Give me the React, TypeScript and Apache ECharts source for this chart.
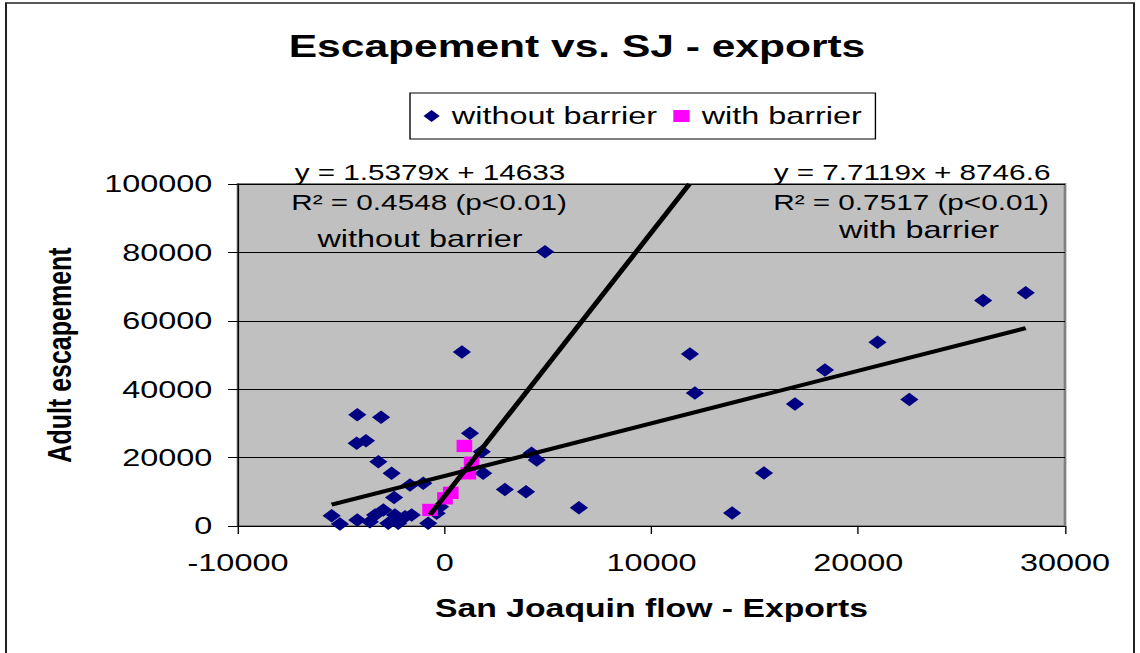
import React, { useEffect, useRef } from "react";
import * as echarts from "echarts";

// ---- data ----
const title = "Escapement vs. SJ - exports";
const xAxisName = "San Joaquin flow - Exports";
const yAxisName = "Adult escapement";
const seriesNames = ["without barrier", "with barrier"];

const xMin = -10000;
const xMax = 30000;
const xInterval = 10000;
const yMin = 0;
const yMax = 100000;
const yInterval = 20000;

const withoutBarrier: [number, number][] = [
  [-5470, 3000], [-5070, 600], [-4260, 24200], [-4230, 32500], [-4230, 1750],
  [-3810, 24900], [-3620, 1260], [-3370, 3200], [-3210, 18800], [-3080, 31800],
  [-2970, 4700], [-2730, 800], [-2570, 15400], [-2450, 8300], [-2410, 3200],
  [-2250, 800], [-1920, 2700], [-1680, 12000], [-1600, 3200], [-1040, 12500],
  [-800, 800], [-390, 3700], [-230, 5600], [830, 50900], [1220, 27100],
  [1790, 21700], [1860, 15400], [2910, 10700], [3930, 10000], [4200, 21300],
  [4450, 19300], [4850, 80200], [6490, 5300], [11860, 50300], [12100, 38900],
  [13900, 3800], [15440, 15500], [16940, 35700], [18390, 45600], [20930, 53700],
  [22470, 37000], [26040, 65900], [28100, 68200],
];

const withBarrier: [number, number][] = [
  [-710, 4700], [10, 8100], [290, 9700], [950, 23400], [1140, 15400], [1300, 18500],
];

// trend line coefficients (slope, intercept) as printed on the chart
const trendWithout = [1.5379, 14633];
const trendWith = [7.7119, 8746.6];

const eqWithout = ["y = 1.5379x + 14633", "R\u00b2 = 0.4548 (p<0.01)", "without barrier"];
const eqWith = ["y = 7.7119x + 8746.6", "R\u00b2 = 0.7517 (p<0.01)", "with barrier"];

// ---- layout (the reference is stretched horizontally) ----
const SX = 1.35;
const W = 1140 / SX;
const H = 653;
const FONT = "'Liberation Sans', Arial, sans-serif";
const gx = (px: number) => px / SX; // reference pixel -> inner x

export default function App() {
  const ref = useRef<HTMLDivElement>(null);

  useEffect(() => {
    if (!ref.current) return;
    const chart = echarts.init(ref.current, undefined, { renderer: "svg" });

    const xsW = withoutBarrier.map((d) => d[0]);
    const wStart = Math.min(...xsW);
    const wEnd = Math.max(...xsW);
    const lineWithout = [
      [wStart, trendWithout[0] * wStart + trendWithout[1]],
      [wEnd, trendWithout[0] * wEnd + trendWithout[1]],
    ];
    const bStart = Math.min(...withBarrier.map((d) => d[0]));
    const bEnd = (yMax - trendWith[1]) / trendWith[0];
    const lineWith = [
      [bStart, trendWith[0] * bStart + trendWith[1]],
      [bEnd, trendWith[0] * bEnd + trendWith[1]],
    ];

    const txt = (text: string, x: number, y: number, size: number) => ({
      type: "text",
      x: gx(x),
      y,
      z: 100,
      style: {
        text,
        fontSize: size,
        fontFamily: FONT,
        fill: "#000",
        align: "center",
        verticalAlign: "middle",
      },
    });

    chart.setOption({
      animation: false,
      backgroundColor: "#fff",
      title: {
        text: title,
        left: gx(577),
        top: 30,
        padding: 0,
        textAlign: "center",
        textStyle: { fontSize: 31.5, fontWeight: "bold", color: "#000", fontFamily: FONT },
      },
      legend: {
        data: [
          { name: seriesNames[0], icon: "diamond" },
          { name: seriesNames[1], icon: "rect" },
        ],
        left: gx(410),
        top: 93,
        padding: [11, 10],
        itemGap: 12,
        itemWidth: 12,
        itemHeight: 12,
        borderColor: "#000",
        borderWidth: 1,
        backgroundColor: "#fff",
        textStyle: { fontSize: 24, color: "#000", fontFamily: FONT, padding: [0, 0, 0, 4] },
      },
      grid: {
        left: gx(238),
        top: 184,
        width: gx(1065) - gx(238),
        height: 342,
        show: true,
        backgroundColor: "#C0C0C0",
        borderColor: "#808080",
        borderWidth: 2,
      },
      xAxis: {
        type: "value",
        min: xMin,
        max: xMax,
        interval: xInterval,
        splitLine: { show: false },
        axisLine: { show: true, onZero: false, lineStyle: { color: "#000", width: 1 } },
        axisTick: { show: true, length: 8, lineStyle: { color: "#000" } },
        axisLabel: {
          fontSize: 24,
          color: "#000",
          margin: 25,
          fontFamily: FONT,
          formatter: (v: number) => String(v),
        },
        name: xAxisName,
        nameLocation: "middle",
        nameGap: 70,
        nameTextStyle: { fontSize: 25, fontWeight: "bold", color: "#000", fontFamily: FONT },
      },
      yAxis: {
        type: "value",
        min: yMin,
        max: yMax,
        interval: yInterval,
        splitLine: { show: true, lineStyle: { color: "#000", width: 1 } },
        axisLine: { show: true, onZero: false, lineStyle: { color: "#000", width: 1 } },
        axisTick: { show: true, length: 7.4, lineStyle: { color: "#000" } },
        axisLabel: {
          fontSize: 24,
          color: "#000",
          margin: 19,
          fontFamily: FONT,
          formatter: (v: number) => String(v),
        },
        name: yAxisName,
        nameLocation: "middle",
        nameGap: 120,
        nameTextStyle: { fontSize: 25, fontWeight: "bold", color: "#000", fontFamily: FONT },
      },
      series: [
        {
          name: seriesNames[0],
          type: "scatter",
          symbol: "diamond",
          symbolSize: 13.5,
          itemStyle: { color: "#000080", opacity: 1 },
          data: withoutBarrier,
        },
        {
          name: seriesNames[1],
          type: "scatter",
          symbol: "rect",
          symbolSize: [11.6, 12.3],
          itemStyle: { color: "#FF00FF", opacity: 1 },
          data: withBarrier,
        },
        {
          name: "trend without barrier",
          type: "line",
          symbol: "none",
          clip: true,
          lineStyle: { color: "#000", width: 4 },
          data: lineWithout,
        },
        {
          name: "trend with barrier",
          type: "line",
          symbol: "none",
          clip: true,
          lineStyle: { color: "#000", width: 4 },
          data: lineWith,
        },
      ],
      graphic: [
        {
          type: "rect",
          shape: { x: gx(6), y: 3, width: gx(1134) - gx(6), height: 700 },
          style: { fill: "none", stroke: "#222", lineWidth: 1.5 },
          z: 0,
        },
        txt(eqWithout[0], 430, 172, 22),
        txt(eqWithout[1], 429, 202, 22),
        txt(eqWithout[2], 420, 239, 24),
        txt(eqWith[0], 912, 172, 22),
        txt(eqWith[1], 911, 202, 22),
        txt(eqWith[2], 919, 230, 24),
      ],
    });

    return () => chart.dispose();
  }, []);

  return (
    <div
      style={{
        position: "absolute",
        left: 0,
        top: 0,
        width: 1140,
        height: H,
        overflow: "hidden",
        background: "#fff",
      }}
    >
      <div
        ref={ref}
        style={{
          width: W,
          height: H,
          transform: `scaleX(${SX})`,
          transformOrigin: "0 0",
        }}
      />
    </div>
  );
}
